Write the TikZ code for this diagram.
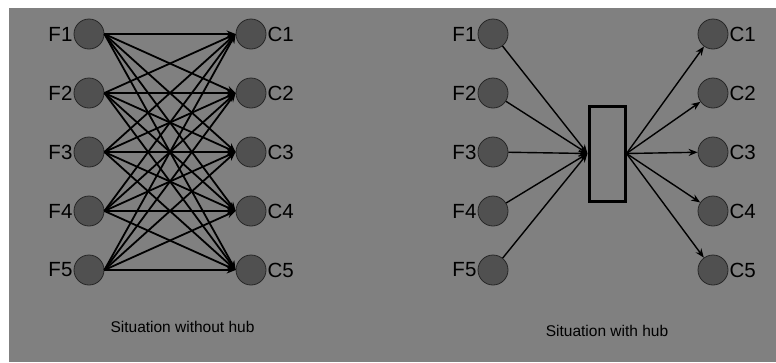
\documentclass[tikz,border=0pt]{standalone}
\usepackage{fontspec}
\setmainfont{Liberation Sans}
\usetikzlibrary{arrows.meta}
\definecolor{bg}{HTML}{808080}
\definecolor{dot}{HTML}{505050}
\begin{document}
\begin{tikzpicture}[x=1pt,y=-1pt,
  site/.style={circle,draw=black!85,line width=0.8pt,fill=dot,minimum size=30pt,inner sep=0pt},
  lbl/.style={font=\fontsize{20.5}{20.5}\selectfont,inner sep=1pt},
  link/.style={line width=1.8pt,-{Stealth[length=9pt,width=7pt]}},
  hublink/.style={line width=1.4pt},
  caption/.style={font=\fontsize{15.5}{15.5}\selectfont}]
\useasboundingbox (0,0) rectangle (776,362);
\fill[bg] (9,8) rectangle (776,362);
% left panel
\foreach \i/\y in {1/34,2/93,3/152,4/211,5/270}{
  \node[site,label={[lbl]left:F\i}] (LF\i) at (89,\y) {};
  \node[site,label={[lbl]right:C\i}] (LC\i) at (251,\y) {};
}
\foreach \i in {1,...,5}{
  \foreach \j in {1,...,5}{
    \draw[link] (LF\i.east) -- (LC\j.west);
  }
}
\node[caption] (capL) at (182.5,327) {Situation without hub};
% right panel
\node[draw=black,line width=3pt,minimum width=36pt,minimum height=95pt,inner sep=0pt] (hub) at (607,153.5) {};
\foreach \i/\y in {1/34,2/93,3/152,4/211,5/270}{
  \node[site,label={[lbl]left:F\i}] (RF\i) at (493,\y) {};
  \node[site,label={[lbl]right:C\i}] (RC\i) at (713,\y) {};
}
\foreach \i in {1,...,5}{
  \draw[hublink,-{Stealth[length=9pt,width=7pt]}] (RF\i) -- (hub.west);
  \draw[hublink,-{Stealth[length=9pt,width=7pt]}] (hub.east) -- (RC\i);
}
\node[caption] (capR) at (607,331) {Situation with hub};
\end{tikzpicture}
\end{document}
